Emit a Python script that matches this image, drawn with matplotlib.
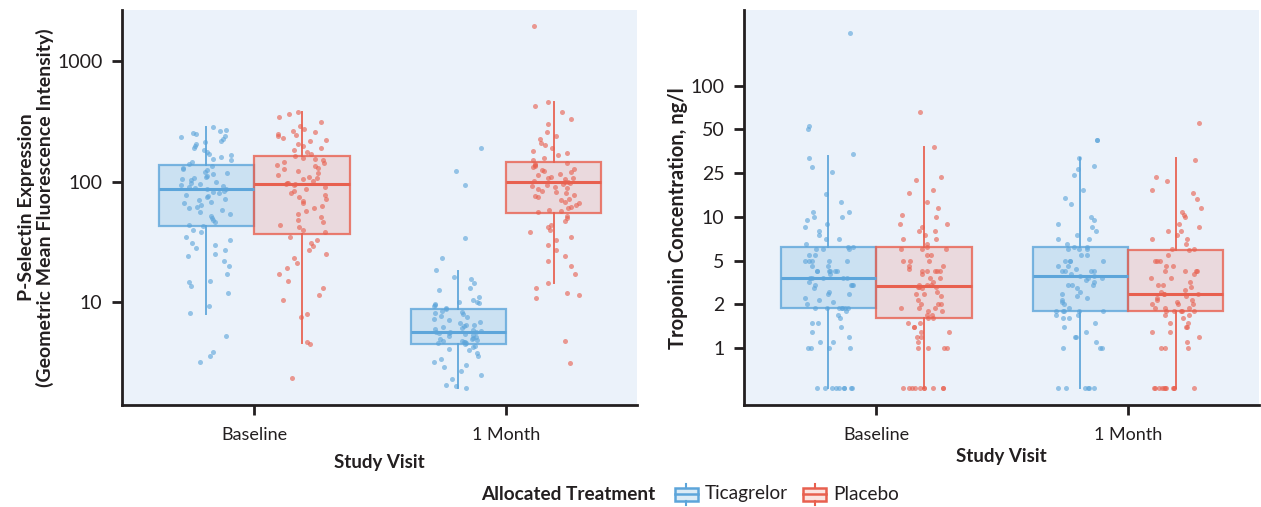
import numpy as np
import matplotlib
matplotlib.use("Agg")
import matplotlib.pyplot as plt
from matplotlib.patches import Rectangle
from matplotlib.lines import Line2D

plt.rcParams['font.family'] = ['Lato', 'DejaVu Sans']

# ---------------- data ----------------
visits = ["Baseline", "1 Month"]
treatments = ["Ticagrelor", "Placebo"]

# P-selectin (geometric mean fluorescence intensity)
ps_base_tica = [282, 270, 262, 255, 248, 240, 232, 225, 218, 212, 205, 198, 190, 182, 176, 170, 165, 160, 155, 150, 146, 141,
                134, 130, 127, 124, 121, 118, 115, 112, 110, 108, 105, 103, 100, 98, 96, 94, 92, 90, 88, 87,
                86, 84, 82, 80, 78, 76, 74, 72, 70, 68, 66, 64, 62, 60, 58, 56, 54, 52, 50, 48, 46, 44, 43,
                40, 38, 35, 33, 31, 30, 28, 27, 25, 24, 22, 20, 17, 15, 14.6, 13.5, 12, 9.3, 8.1, 5.2, 3.85, 3.55, 3.2]
ps_base_plac = [375, 365, 340, 310, 290, 275, 265, 258, 250, 245, 238, 230, 222, 215, 205, 198, 190, 182, 176, 170,
                162, 158, 154, 150, 146, 142, 138, 134, 130, 126, 122, 118, 114, 110, 107, 104, 101, 98, 97, 96,
                95, 93, 90, 87, 84, 81, 78, 75, 72, 69, 66, 63, 60, 57, 54, 51, 48, 46, 44, 42, 40, 38,
                35, 33, 31, 29, 27, 25, 23, 21, 19, 17, 15, 13, 11.5, 10.5, 8, 7.5, 4.7, 4.5, 2.35]
ps_m1_tica = [191, 123, 93, 34, 23, 18.5, 16, 15.5, 14.5, 13, 12.5, 11, 10.5, 10, 10, 9.8, 9.6, 9.5, 9.2, 9,
              8.7, 8.5, 8.3, 8.1, 7.9, 7.7, 7.5, 7.3, 7.1, 6.9, 6.7, 6.5, 6.4, 6.3, 6.2, 6.1, 6.0, 5.9, 5.8, 5.7, 5.65,
              5.6, 5.55, 5.5, 5.4, 5.3, 5.2, 5.1, 5.0, 4.95, 4.9, 4.85, 4.8, 4.75, 4.7, 4.65, 4.6, 4.55, 4.5,
              4.3, 4.2, 4.1, 4.0, 3.8, 3.6, 3.4, 3.2, 3.0, 2.9, 2.7, 2.5, 2.3, 2.05, 2.0, 1.95]
ps_m1_plac = [1950, 453, 420, 380, 330, 300, 260, 240, 225, 210, 200, 190, 180, 172, 165, 158, 150,
              143, 140, 137, 134, 131, 128, 125, 122, 119, 116, 113, 110, 108, 106, 104, 102, 100, 99,
              98, 96, 94, 92, 90, 88, 86, 84, 82, 80, 78, 76, 74, 72, 70, 68, 66, 64, 62, 60, 58, 57, 56,
              52, 50, 47, 44, 42, 40, 38, 35, 33, 30, 27, 24, 22, 20, 17, 14.5, 13, 12, 11.5, 10.8, 4.8, 3.1]

# box statistics (order: base tica, base plac, 1m tica, 1m plac)
ps_q1 = [42.4, 37.0, 4.48, 55.3]
ps_med = [87.5, 96.0, 5.64, 100.0]
ps_q3 = [136.0, 164.0, 8.75, 144.0]
ps_lo = [7.95, 4.57, 1.93, 14.4]
ps_hi = [281.0, 381.0, 18.1, 453.0]

# Troponin (ng/l); 0.53 = below detection limit row
ND = 0.53
tn_base_tica = [230, 53, 50, 33.7, 31.6, 27.6, 25.4, 16.1, 13.6, 11.1, 11.1, 10, 10, 9.5, 9, 8.5, 8, 7.5, 7, 7, 6.5,
                6.2, 6.2, 6, 6, 6, 5.5, 5.5, 5, 5, 5, 5, 5, 4.5, 4.5, 4, 4, 4, 4, 4, 4, 3.8, 3.5, 3.5, 3.5,
                3.5, 3.5, 3.2, 3, 3, 3, 3, 2.8, 2.6, 2.5, 2.5, 2.3, 2.2, 2.1, 2, 1.9, 1.9, 1.9, 1.9, 1.9,
                1.9, 1.9, 1.8, 1.7, 1.6, 1.5, 1.5, 1.4, 1.3, 1.2, 1.1, 1.1, 1, 1, 1, 1,
                ND, ND, ND, ND, ND, ND, ND, ND, ND]
tn_base_plac = [65.5, 38, 23, 21.5, 17.5, 16.5, 13.6, 12, 10.5, 10, 9, 9, 8.5, 8, 8, 7.5, 7, 7, 6.5, 6.2,
                6, 6, 6, 5.5, 5.5, 5, 5, 5, 4.5, 4.5, 4.2, 4, 4, 4, 4, 4, 3.8, 3.5, 3.5, 3.2, 3, 3, 3,
                2.9, 2.9, 2.9, 2.8, 2.6, 2.5, 2.5, 2.4, 2.2, 2, 2, 2, 1.9, 1.9, 1.9, 1.8, 1.8, 1.7, 1.7,
                1.6, 1.6, 1.5, 1.5, 1.4, 1.4, 1.3, 1.3, 1.2, 1.2, 1.1, 1, 1, 1, 1,
                ND, ND, ND, ND, ND, ND, ND, ND, ND, ND]
tn_m1_tica = [42.6, 42.6, 31.6, 28, 26.6, 24, 17.4, 14.8, 13.1, 10, 9.5, 9, 8.5, 8, 7.5, 7, 7, 6.5, 6.2, 6.2,
              6, 6, 6, 5.5, 5.5, 5, 5, 5, 5, 4.5, 4.5, 4.2, 4, 4, 4, 4, 3.8, 3.6, 3.6, 3.5, 3.5, 3.3, 3.2,
              3, 3, 3, 2.8, 2.6, 2.5, 2.4, 2.3, 2.2, 2.1, 2, 1.9, 1.8, 1.8, 1.8, 1.8, 1.8, 1.7, 1.7, 1.6,
              1.6, 1.5, 1.4, 1.3, 1.2, 1.2, 1.1, 1, 1, 1,
              ND, ND, ND, ND, ND, ND]
tn_m1_plac = [55, 31, 23, 21, 17.4, 16.5, 14.5, 12, 11.1, 10.5, 10, 9, 8.5, 8, 8, 7.5, 7, 7, 6.5, 6, 6, 5.9,
              5.5, 5, 5, 5, 4.5, 4.5, 4, 4, 4, 4, 3.8, 3.5, 3.5, 3.2, 3, 3, 2.9, 2.7, 2.6, 2.5, 2.5, 2.47,
              2.4, 2.3, 2.2, 2.2, 2.1, 2, 2, 2, 1.9, 1.9, 1.9, 1.8, 1.8, 1.8, 1.8, 1.8, 1.7, 1.7, 1.6,
              1.5, 1.5, 1.4, 1.4, 1.3, 1.3, 1.2, 1.1, 1, 1, 1,
              ND, ND, ND, ND, ND, ND, ND, ND, ND, ND, ND]

tn_q1 = [1.88, 1.60, 1.79, 1.79]
tn_med = [3.5, 2.91, 3.6, 2.47]
tn_q3 = [6.2, 6.2, 6.2, 5.9]
tn_lo = [ND, ND, ND, ND]
tn_hi = [33.0, 38.0, 31.6, 31.6]

tn_ticks = [1, 2, 5, 10, 25, 50, 100]
ps_ticks = [10, 100, 1000]

# ---------------- style ----------------
BG = "#EBF2FA"
BLUE = "#5DA5DA"
RED = "#E8604F"
DARK = "#231F20"
colors = [BLUE, RED]
fill_alpha = [0.22, 0.17]

W, H = 1261, 507
fig = plt.figure(figsize=(W / 100, H / 100), dpi=100)

def px_axes(x0, y0, x1, y1):
    return fig.add_axes([x0 / W, 1 - y1 / H, (x1 - x0) / W, (y1 - y0) / H])

ax1 = px_axes(122, 10, 637, 405)
ax2 = px_axes(744, 10, 1259, 405)

# troponin axis: equally spaced ticks 1,2,5,10,25,50,100 (log-interpolated between)
lad_v = np.array([0.125, 0.25, 0.5, 1, 2, 5, 10, 25, 50, 100, 200, 400, 800])
lad_p = np.arange(len(lad_v)) - 3.0

def tn_fwd(v):
    v = np.asarray(v, float)
    return np.interp(np.log(np.clip(v, 1e-9, None)), np.log(lad_v), lad_p)

def tn_inv(p):
    p = np.asarray(p, float)
    return np.exp(np.interp(p, lad_p, np.log(lad_v)))

ax1.set_yscale('log')
ax2.set_yscale('function', functions=(tn_fwd, tn_inv))

offsets = [-0.19, 0.19]
bw = 0.378
jit = 0.10
rng = np.random.default_rng(7)

def draw_panel(ax, groups, q1, med, q3, lo, hi):
    k = 0
    for vi in range(2):
        for ti in range(2):
            c = colors[ti]
            pos = vi + offsets[ti]
            st = [dict(med=med[k], q1=q1[k], q3=q3[k], whislo=lo[k], whishi=hi[k], fliers=[])]
            ax.bxp(st, positions=[pos], widths=bw, patch_artist=True, showfliers=False, showcaps=False,
                   boxprops=dict(facecolor=matplotlib.colors.to_rgba(c, fill_alpha[ti]),
                                 edgecolor=matplotlib.colors.to_rgba(c, 0.8), linewidth=1.6),
                   medianprops=dict(color=c, linewidth=2.2),
                   whiskerprops=dict(color=c, linewidth=1.4, alpha=0.9), manage_ticks=False)
            vals = np.asarray(groups[k], float)
            xs = pos + rng.uniform(-jit, jit, len(vals))
            ax.scatter(xs, vals, s=13, color=c, alpha=0.62, linewidths=0, zorder=5)
            k += 1

draw_panel(ax1, [ps_base_tica, ps_base_plac, ps_m1_tica, ps_m1_plac], ps_q1, ps_med, ps_q3, ps_lo, ps_hi)
draw_panel(ax2, [tn_base_tica, tn_base_plac, tn_m1_tica, tn_m1_plac], tn_q1, tn_med, tn_q3, tn_lo, tn_hi)

ax1.set_ylim(1.40, 2650)
ax2.set_ylim(tn_inv(-1.30), tn_inv(7.73))

for ax in (ax1, ax2):
    ax.set_facecolor(BG)
    ax.set_xlim(-0.525, 1.52)
    ax.set_xticks([0, 1])
    ax.set_xticklabels(visits)
    for s in ("top", "right"):
        ax.spines[s].set_visible(False)
    for s in ("left", "bottom"):
        ax.spines[s].set_color(DARK)
        ax.spines[s].set_linewidth(2.0)
    ax.tick_params(axis='both', which='major', length=7.5, width=2.0, color=DARK, labelcolor=DARK)
    ax.tick_params(axis='y', labelsize=14, pad=6.5)
    ax.tick_params(axis='x', labelsize=13, pad=8)
    ax.tick_params(axis='both', which='minor', length=0)
    ax.set_xlabel("Study Visit", fontsize=13.5, fontweight='bold', color=DARK)

ax1.yaxis.set_minor_locator(matplotlib.ticker.NullLocator())
ax1.set_yticks(ps_ticks)
ax1.set_yticklabels([str(t) for t in ps_ticks])
ax2.yaxis.set_minor_locator(matplotlib.ticker.NullLocator())
ax2.set_yticks(tn_ticks)
ax2.set_yticklabels([str(t) for t in tn_ticks])

ax1.set_ylabel("P-Selectin Expression\n(Geometric Mean Fluorescence Intensity)", fontsize=14,
               fontweight='bold', color=DARK, linespacing=1.05)
ax1.yaxis.set_label_coords((54 - 122) / 515, 0.5)
ax2.set_ylabel("Troponin Concentration, ng/l", fontsize=14.5, fontweight='bold', color=DARK)
ax2.yaxis.set_label_coords((688 - 744) / 515, 1 - (218 - 10) / 395)
ax1.xaxis.set_label_coords(0.5, 1 - (454 - 10) / 395)
ax2.xaxis.set_label_coords(0.5, 1 - (448 - 10) / 395)

# ---------------- legend (manual) ----------------
def fx(x):
    return x / W

def fy(y):
    return 1 - y / H

ly = 494
fig.text(fx(481), fy(ly), "Allocated Treatment", fontsize=13.7, fontweight='bold', color=DARK,
         ha='left', va='center')
for x0, c, lab, a in [(675, BLUE, "Ticagrelor", 0.22), (803, RED, "Placebo", 0.17)]:
    wbox, hbox = 23, 13
    fig.add_artist(Rectangle((fx(x0), fy(ly + hbox / 2)), wbox / W, hbox / H, transform=fig.transFigure,
                             facecolor=matplotlib.colors.to_rgba(c, a), edgecolor=c, linewidth=1.8))
    fig.add_artist(Line2D([fx(x0), fx(x0 + wbox)], [fy(ly), fy(ly)], transform=fig.transFigure,
                          color=c, linewidth=1.8))
    fig.add_artist(Line2D([fx(x0 + wbox / 2)] * 2, [fy(ly - hbox / 2), fy(ly - hbox / 2 - 4)],
                          transform=fig.transFigure, color=c, linewidth=1.5))
    fig.add_artist(Line2D([fx(x0 + wbox / 2)] * 2, [fy(ly + hbox / 2), fy(ly + hbox / 2 + 4)],
                          transform=fig.transFigure, color=c, linewidth=1.5))
    fig.text(fx(x0 + 30), fy(ly), lab, fontsize=13.7, color=DARK, ha='left', va='center')

fig.savefig("out.png", dpi=100)
